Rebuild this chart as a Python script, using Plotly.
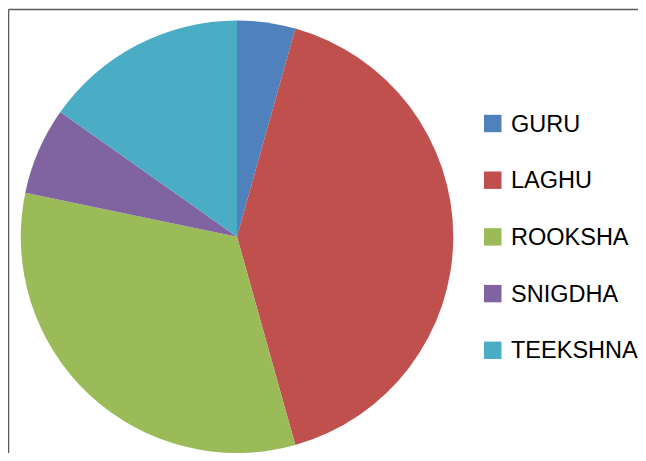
import plotly.graph_objects as go

labels = ["GURU", "LAGHU", "ROOKSHA", "SNIGDHA", "TEEKSHNA"]
values = [4, 38, 30, 6, 14]
colors = ["#4F81BD", "#C0504D", "#9BBB59", "#8064A2", "#4BACC6"]

# page body has an 8px margin; figure sized so the page never overflows the window
OFF = 8
W, H = 646 - 2 * OFF, 461 - 2 * OFF


def px(x):
    return (x - OFF) / W


def py(y):
    return 1 - (y - OFF) / H


fig = go.Figure(go.Pie(
    labels=labels, values=values, sort=False, direction="clockwise", rotation=0,
    marker=dict(colors=colors, line=dict(width=0)),
    textinfo="none", hoverinfo="label+value+percent", showlegend=False,
    domain=dict(x=[px(20.5), px(453.5)], y=[0, py(20.5)]),
))

frame = dict(color="#5a5a5a", width=1.5)
shapes = [
    dict(type="line", xref="paper", yref="paper", x0=px(8.5), x1=1, y0=py(9.5), y1=py(9.5), line=frame),
    dict(type="line", xref="paper", yref="paper", x0=px(8.5), x1=px(8.5), y0=0, y1=py(9.5), line=frame),
]
annotations = []
for i, (lab, col) in enumerate(zip(labels, colors)):
    cy = 123.5 + i * 56.7
    shapes.append(dict(type="rect", xref="paper", yref="paper",
                       x0=px(484), x1=px(501.5),
                       y0=py(cy + 8.7), y1=py(cy - 8.7),
                       line=dict(width=0), fillcolor=col))
    annotations.append(dict(text=lab, xref="paper", yref="paper",
                            x=px(508.5), y=py(cy), xanchor="left", yanchor="middle",
                            showarrow=False,
                            font=dict(family="Liberation Sans, Arial", size=23.5, color="#000000")))

fig.update_layout(
    width=W, height=H, margin=dict(l=0, r=0, t=0, b=0),
    paper_bgcolor="white", plot_bgcolor="white",
    shapes=shapes, annotations=annotations,
)

fig.write_html("out.html", config={"displayModeBar": False})
